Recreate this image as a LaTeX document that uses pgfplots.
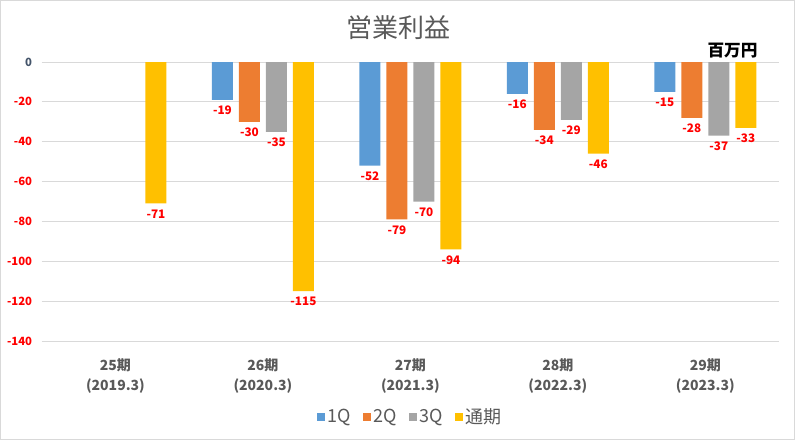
\documentclass[border=0pt]{standalone}
\usepackage{pgfplots}
\pgfplotsset{compat=1.18}
\usepackage{fontspec}
\setmainfont{Noto Sans CJK JP}
\definecolor{c1}{HTML}{5B9BD5}
\definecolor{c2}{HTML}{ED7D31}
\definecolor{c3}{HTML}{A5A5A5}
\definecolor{c4}{HTML}{FFC000}
\definecolor{txt}{HTML}{595959}
\definecolor{grd}{HTML}{D9D9D9}
\definecolor{zero}{HTML}{44546A}
\definecolor{lred}{HTML}{FF0000}
\begin{document}
\begin{tikzpicture}
\draw[grd, line width=0.75pt] (0.375pt,0.375pt) rectangle (595.875pt,329.625pt);
\node[text=txt, font=\fontsize{19.5}{22}\selectfont] at (298.5pt,309pt) {営業利益};
\node[text=black, font=\fontsize{12.5}{14}\selectfont\bfseries] at (549.4pt,292pt) {百万円};
\begin{axis}[
  at={(31.3pt,74.25pt)}, anchor=south west,
  scale only axis, width=553pt, height=209.25pt,
  ybar=4.5pt, bar width=15.75pt,
  ymin=-140, ymax=0, xmin=-0.5, xmax=4.5,
  ytick={-140,-120,-100,-80,-60,-40,-20,0},
  yticklabel={\relax},
  xtick={0,1,2,3,4},
  xticklabels={{25期\\(2019.3)},{26期\\(2020.3)},{27期\\(2021.3)},{28期\\(2022.3)},{29期\\(2023.3)}},
  xticklabel style={align=center, font=\fontsize{10.5}{15}\selectfont\bfseries\color{txt}, yshift=-10pt},
  /pgf/number format/assume math mode=true,
  axis line style={draw=none}, major tick length=0pt,
  ymajorgrids, grid style={grd, line width=0.75pt},
  clip=false,
  nodes near coords,
  every node near coord/.append style={anchor=north, text=lred, font=\fontsize{8.8}{10}\selectfont\bfseries, yshift=-1pt},
  legend style={at={(0.5,-0.272)}, anchor=center, legend columns=-1, draw=none, fill=none, font=\fontsize{13.5}{15}\selectfont, text=txt, /tikz/every even column/.append style={column sep=7pt}},
  legend image code/.code={\fill[#1] (0pt,-3pt) rectangle (6pt,3pt);},
]
\addplot[fill=c1, draw=none] coordinates {(1,-19) (2,-52) (3,-16) (4,-15)};
\addplot[fill=c2, draw=none] coordinates {(1,-30) (2,-79) (3,-34) (4,-28)};
\addplot[fill=c3, draw=none] coordinates {(1,-35) (2,-70) (3,-29) (4,-37)};
\addplot[fill=c4, draw=none] coordinates {(0,-71) (1,-115) (2,-94) (3,-46) (4,-33)};
\legend{1Q,2Q,3Q,通期}
\begin{scope}[every node/.style={anchor=east, font=\fontsize{8.5}{9}\selectfont\bfseries, text=lred, xshift=-6pt, inner sep=1pt}]
\node at (axis cs:-0.5,-140) {-140};
\node at (axis cs:-0.5,-120) {-120};
\node at (axis cs:-0.5,-100) {-100};
\node at (axis cs:-0.5,-80) {-80};
\node at (axis cs:-0.5,-60) {-60};
\node at (axis cs:-0.5,-40) {-40};
\node at (axis cs:-0.5,-20) {-20};
\node[text=zero] at (axis cs:-0.5,0) {0};
\end{scope}
\end{axis}
\end{tikzpicture}
\end{document}
